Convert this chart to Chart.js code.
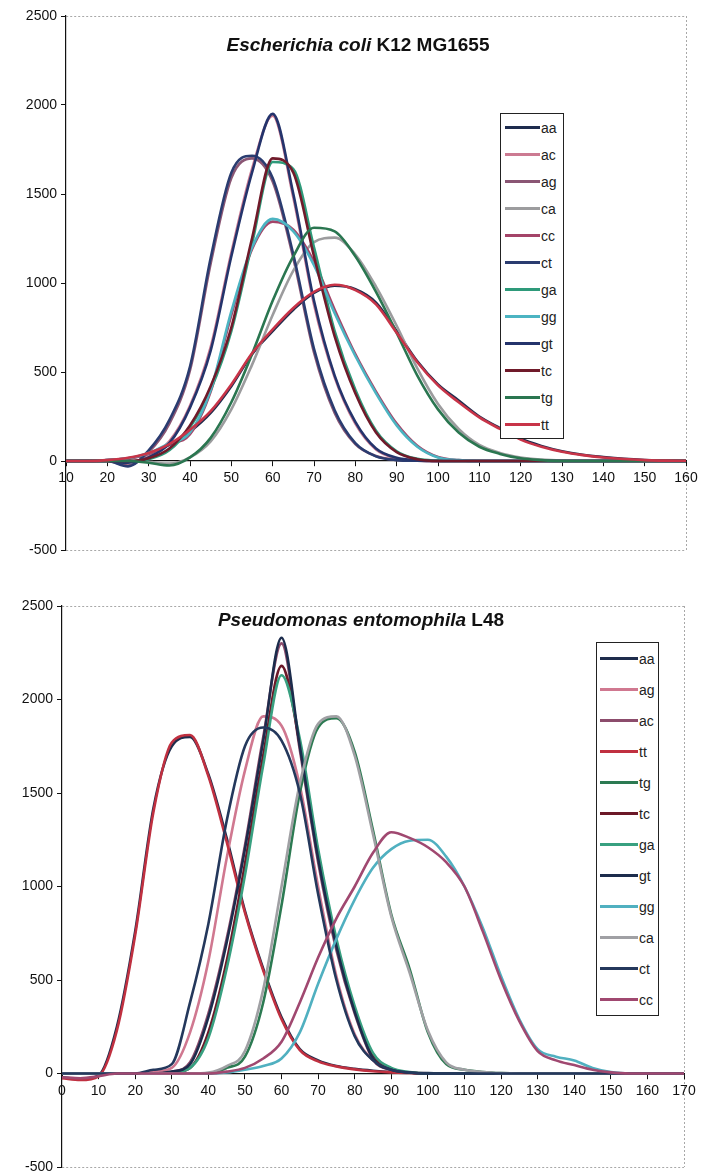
<!DOCTYPE html>
<html>
<head>
<meta charset="utf-8">
<script src="https://cdn.jsdelivr.net/npm/chart.js@4.4.1/dist/chart.umd.min.js"></script>
<style>
html,body{margin:0;padding:0;background:#fff;width:704px;height:1175px;overflow:hidden;font-family:"Liberation Sans",Arial,sans-serif;}
.cv{position:absolute;left:0;}
.title{position:absolute;font-weight:bold;font-size:19px;color:#111;white-space:nowrap;transform:translate(-50%,-50%);z-index:3;}
.legend{position:absolute;border:1px solid #222;background:#fff;box-sizing:border-box;z-index:3;}
.legend .row{display:flex;align-items:center;font-size:14px;color:#222;}
.legend .sw{height:3px;margin-right:1px;}
</style>
</head>
<body>
<canvas id="c1" class="cv" width="704" height="580" style="top:0"></canvas>
<canvas id="c2" class="cv" width="704" height="600" style="top:580px"></canvas>
<div class="title" style="left:358px;top:45px"><i>Escherichia coli</i> K12 MG1655</div>
<div class="title" style="left:361px;top:620px"><i>Pseudomonas entomophila</i> L48</div>
<div id="lg1" class="legend" style="left:500px;top:113px;width:64px;"></div>
<div id="lg2" class="legend" style="left:596px;top:642px;width:63px;"></div>
<script>
// ---------- data: Escherichia coli K12 MG1655 ----------
const ecoliX = [10,15,20,25,30,35,40,45,50,55,60,65,70,75,80,85,90,95,100,105,110,115,120,125,130,135,140,145,150,155,160];
const ecoliNames = ['aa','ac','ag','ca','cc','ct','ga','gg','gt','tc','tg','tt'];
const ecoliAA = [0,0,5,15,40,90,165,270,420,600,730,850,945,985,965,890,730,560,430,340,250,185,125,85,55,35,22,12,6,3,1];
const ecoliAC = [0,0,0,-5,25,110,310,640,1170,1640,1940,1480,880,470,210,65,15,3,0,0,0,0,0,0,0,0,0,0,0,0,0];
const ecoliAG = [0,0,0,-25,50,210,510,1110,1590,1700,1570,1140,610,270,95,28,6,1,0,0,0,0,0,0,0,0,0,0,0,0,0];
const ecoliCA = [0,0,0,0,-5,-15,20,110,290,540,820,1070,1230,1255,1160,980,760,520,320,180,90,45,20,8,2,0,0,0,0,0,0];
const ecoliCC = [0,0,5,12,40,95,150,390,820,1190,1345,1300,1120,850,600,390,210,85,22,5,0,0,0,0,0,0,0,0,0,0,0];
const ecoliCT = [0,0,0,-30,60,230,530,1140,1620,1715,1590,1160,630,285,100,26,5,1,0,0,0,0,0,0,0,0,0,0,0,0,0];
const ecoliGA = [0,0,0,0,10,60,190,400,730,1220,1680,1640,1200,730,400,170,55,12,2,0,0,0,0,0,0,0,0,0,0,0,0];
const ecoliGG = [0,0,5,15,45,100,160,400,840,1200,1360,1290,1100,830,590,380,200,80,20,5,0,0,0,0,0,0,0,0,0,0,0];
const ecoliGT = [0,0,0,-10,20,100,300,620,1150,1620,1950,1500,900,480,220,70,18,4,0,0,0,0,0,0,0,0,0,0,0,0,0];
const ecoliTC = [0,0,0,0,15,70,200,420,750,1250,1700,1620,1150,700,380,160,50,10,0,0,0,0,0,0,0,0,0,0,0,0,0];
const ecoliTG = [0,0,0,0,-10,-25,20,130,330,600,900,1150,1310,1290,1150,950,720,480,290,160,80,40,15,5,0,0,0,0,0,0,0];
const ecoliTT = [0,0,5,18,45,95,175,280,430,605,740,860,950,990,960,880,720,555,425,330,245,180,120,80,52,33,20,11,5,2,1];
const ecoliXTicks = [10,20,30,40,50,60,70,80,90,100,110,120,130,140,150,160];

// ---------- data: Pseudomonas entomophila L48 ----------
const pentX = [0,5,10,15,20,25,30,35,40,45,50,55,60,65,70,75,80,85,90,95,100,105,110,115,120,125,130,135,140,145,150,155,160,165,170];
const pentNames = ['aa','ag','ac','tt','tg','tc','ga','gt','gg','ca','ct','cc'];
const pentAA = [-20,-30,-10,250,760,1420,1750,1800,1600,1260,870,560,300,130,70,40,25,15,8,4,2,0,0,0,0,0,0,0,0,0,0,0,0,0,0];
const pentAG = [0,0,0,0,0,10,30,220,600,1150,1620,1910,1860,1540,1000,520,210,70,20,5,0,0,0,0,0,0,0,0,0,0,0,0,0,0,0];
const pentAC = [0,0,0,0,0,0,10,60,320,720,1220,1800,2300,1730,1130,660,320,75,18,4,0,0,0,0,0,0,0,0,0,0,0,0,0,0,0];
const pentTT = [-25,-35,-15,230,740,1400,1770,1810,1590,1240,860,550,290,125,65,38,22,12,6,3,1,0,0,0,0,0,0,0,0,0,0,0,0,0,0];
const pentTG = [0,0,0,0,0,0,0,0,0,30,90,380,900,1500,1850,1900,1720,1300,850,560,220,50,20,8,2,0,0,0,0,0,0,0,0,0,0];
const pentTC = [0,0,0,0,0,0,5,30,220,600,1120,1700,2180,1760,1180,700,340,100,25,5,0,0,0,0,0,0,0,0,0,0,0,0,0,0,0];
const pentGA = [0,0,0,0,0,0,5,30,190,560,1060,1650,2130,1790,1200,720,360,110,30,8,0,0,0,0,0,0,0,0,0,0,0,0,0,0,0];
const pentGT = [0,0,0,0,0,0,10,50,300,700,1200,1780,2330,1750,1150,680,330,80,20,5,0,0,0,0,0,0,0,0,0,0,0,0,0,0,0];
const pentGG = [0,0,0,0,0,0,0,0,0,5,20,40,80,220,480,720,930,1100,1200,1245,1250,1160,1000,780,520,290,130,90,70,30,8,0,0,0,0];
const pentCA = [0,0,0,0,0,0,0,0,5,40,120,450,1000,1550,1870,1910,1700,1280,840,540,230,60,20,8,2,0,0,0,0,0,0,0,0,0,0];
const pentCT = [0,0,0,0,0,20,50,380,800,1350,1750,1850,1780,1500,960,500,200,70,20,5,0,0,0,0,0,0,0,0,0,0,0,0,0,0,0];
const pentCC = [-20,-25,-15,0,0,0,0,0,0,10,30,80,170,380,620,830,1000,1180,1290,1260,1210,1130,1000,760,500,280,120,70,45,20,6,0,0,0,0];
const pentXTicks = [0,10,20,30,40,50,60,70,80,90,100,110,120,130,140,150,160,170];

const yTicks = [-500,0,500,1000,1500,2000,2500];

// ---------- styles ----------
const FONT = '"Liberation Sans", Arial, sans-serif';
const ecoliColors = ['#1e2c4e','#cc7a92','#8a5674','#9c9c9e','#a44468','#2a3c70','#2e9a7a','#4cb4c2','#24346c','#701a2a','#2a7650','#c83448'];
const pentColors  = ['#1e2c4c','#d07890','#8c4c6c','#c03040','#2c7a52','#6c1828','#38a080','#1c2c4c','#50b0c0','#a0a0a4','#24385c','#a04870'];

Chart.defaults.font.family = FONT;

function makeChart(id, xVals, series, names, colors, xTicks, pad, yAxisWidth) {
  const xMin = xTicks[0], xMax = xTicks[xTicks.length - 1];
  const datasets = names.map((n, i) => ({
    label: n,
    data: xVals.map((x, j) => ({x: x, y: series[i][j]})),
    borderColor: colors[i],
    backgroundColor: colors[i],
    borderWidth: 2.6,
    pointRadius: 0,
    fill: false,
    order: -i,
    cubicInterpolationMode: 'monotone'
  }));
  return new Chart(document.getElementById(id), {
    type: 'line',
    data: {datasets: datasets},
    options: {
      responsive: false,
      animation: false,
      events: [],
      layout: {padding: pad},
      plugins: {legend: {display: false}, title: {display: false}, tooltip: {enabled: false}},
      scales: {
        x: {
          type: 'linear', min: xMin, max: xMax,
          position: {y: 0},
          afterBuildTicks: ax => { ax.ticks = xTicks.map(v => ({value: v})); },
          ticks: {callback: v => String(v), color: '#111', font: {size: 14}, padding: 4, maxRotation: 0, autoSkip: false},
          grid: {
            color: c => (c.tick && c.tick.value === xMax) ? '#a8a8a8' : 'rgba(0,0,0,0)',
            lineWidth: 1, tickColor: '#111', tickLength: 5, drawTicks: true
          },
          border: {display: true, color: '#111', width: 1.2, dash: [2, 2]}
        },
        y: {
          type: 'linear', min: yTicks[0], max: yTicks[yTicks.length - 1],
          position: 'left',
          afterBuildTicks: ax => { ax.ticks = yTicks.map(v => ({value: v})); },
          afterFit: s => { s.width = yAxisWidth; },
          ticks: {callback: v => String(v), color: '#111', font: {size: 14}, padding: 4},
          grid: {
            color: c => (c.tick && (c.tick.value === yTicks[0] || c.tick.value === yTicks[yTicks.length - 1])) ? '#a8a8a8' : 'rgba(0,0,0,0)',
            lineWidth: 1, tickColor: '#111', tickLength: 5, drawTicks: true
          },
          border: {display: true, color: '#111', width: 1.2, dash: [2, 2]}
        }
      }
    }
  });
}

function buildLegend(chart, elId, rowH, lineW, padL) {
  const el = document.getElementById(elId);
  chart.data.datasets.forEach(ds => {
    const row = document.createElement('div');
    row.className = 'row';
    row.style.height = rowH + 'px';
    const sw = document.createElement('span');
    sw.className = 'sw';
    sw.style.width = lineW + 'px';
    sw.style.marginLeft = padL + 'px';
    sw.style.background = ds.borderColor;
    const tx = document.createElement('span');
    tx.textContent = ds.label;
    row.appendChild(sw);
    row.appendChild(tx);
    el.appendChild(row);
  });
}

const ch1 = makeChart('c1', ecoliX,
  [ecoliAA, ecoliAC, ecoliAG, ecoliCA, ecoliCC, ecoliCT, ecoliGA, ecoliGG, ecoliGT, ecoliTC, ecoliTG, ecoliTT],
  ecoliNames, ecoliColors, ecoliXTicks, {left: 0, right: 18, top: 16, bottom: 30}, 66);
const ch2 = makeChart('c2', pentX,
  [pentAA, pentAG, pentAC, pentTT, pentTG, pentTC, pentGA, pentGT, pentGG, pentCA, pentCT, pentCC],
  pentNames, pentColors, pentXTicks, {left: 0, right: 20, top: 26, bottom: 13}, 62);
buildLegend(ch1, 'lg1', 27, 35, 4);
buildLegend(ch2, 'lg2', 31, 38, 3);
</script>
</body>
</html>
